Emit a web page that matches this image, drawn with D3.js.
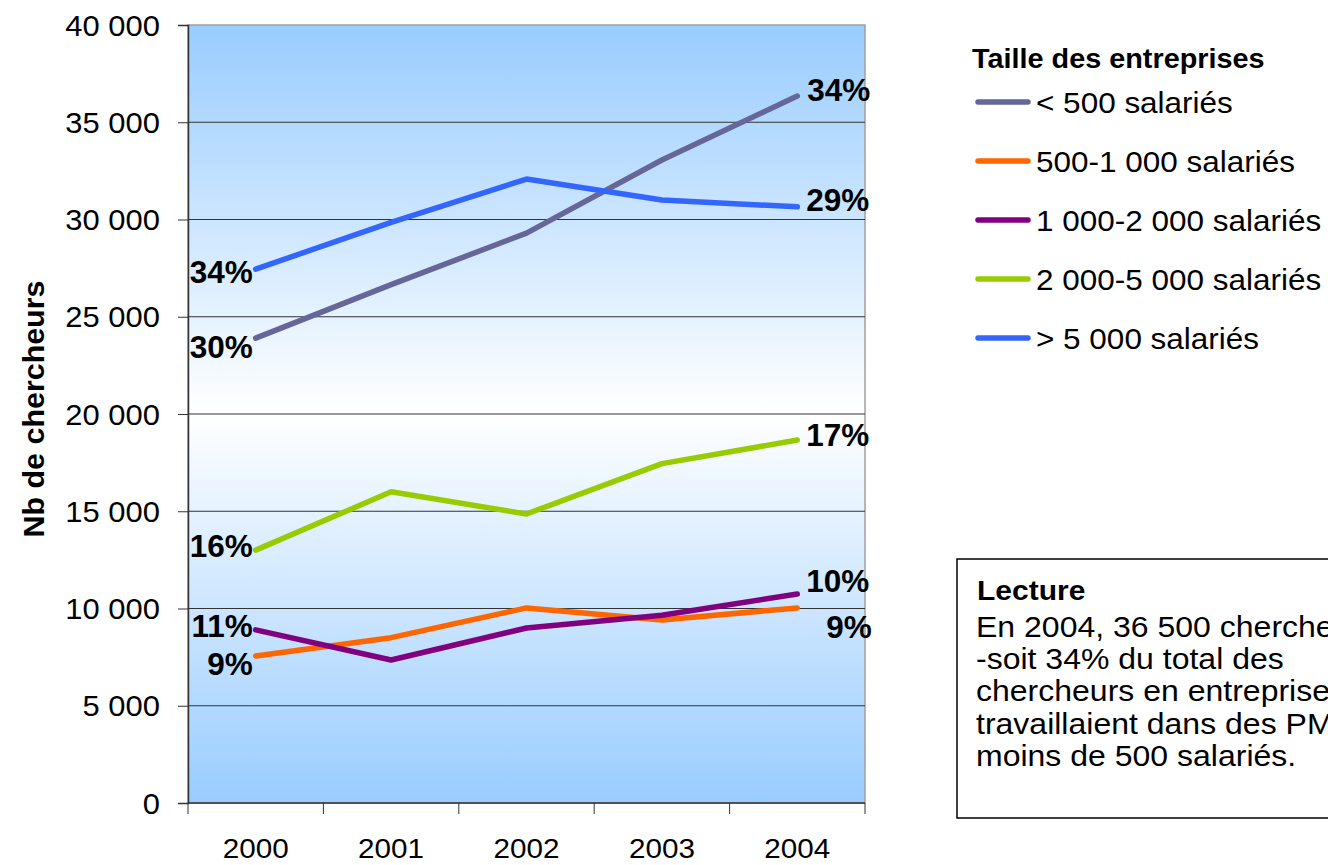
<!DOCTYPE html>
<html>
<head>
<meta charset="utf-8">
<script src="https://cdn.jsdelivr.net/npm/d3@7"></script>
<style>
  body { margin: 0; background: #fff; }
  svg { display: block; font-family: "Liberation Sans", Arial, sans-serif; }
</style>
</head>
<body>
<div id="chart_wrapper"></div>
<script>
// data
var years = ["2000", "2001", "2002", "2003", "2004"];
var seriesNames = ["< 500 salariés", "500-1 000 salariés", "1 000-2 000 salariés", "2 000-5 000 salariés", "> 5 000 salariés"];
var seriesColors = ["#666699", "#FF6600", "#800080", "#99CC00", "#3366FF"];
var valsPME   = [23900, 26650, 29300, 33060, 36350];
var vals500   = [7560, 8500, 10030, 9410, 10030];
var vals1000  = [8900, 7350, 9000, 9650, 10750];
var vals2000  = [13000, 16000, 14860, 17450, 18660];
var vals5000  = [27450, 29850, 32080, 31000, 30650];
var startPct = ["30%", "9%", "11%", "16%", "34%"];
var endPct   = ["34%", "9%", "10%", "17%", "29%"];
var yTicks = [0, 5000, 10000, 15000, 20000, 25000, 30000, 35000, 40000];
var lectureLines = ["En 2004, 36 500 chercheurs", "-soit 34% du total des", "chercheurs en entreprises-", "travaillaient dans des PME de", "moins de 500 salariés."];

var allSeries = [valsPME, vals500, vals1000, vals2000, vals5000];

// label nudges (layout only): [dx, dy] from the point
var startNudge = [[-3, 20], [-3, 19], [-3, 7], [-3, 7], [-3, 14]];
var endNudge = [[10, 5], [29, 30], [9, -2], [9, 6], [9, 4]];

var W = 1328, H = 865;
var plot = { left: 188, right: 865, top: 25, bottom: 803 };
var SX = 1.06; // source glyphs a bit wider than Arial

var svg = d3.select("#chart_wrapper").append("svg").attr("width", W).attr("height", H);

var defs = svg.append("defs");
var grad = defs.append("linearGradient").attr("id", "bg").attr("x1", 0).attr("y1", 0).attr("x2", 0).attr("y2", 1);
grad.append("stop").attr("offset", "0%").attr("stop-color", "#99CCFF");
grad.append("stop").attr("offset", "50%").attr("stop-color", "#FFFFFF");
grad.append("stop").attr("offset", "100%").attr("stop-color", "#99CCFF");

var x = d3.scaleBand().domain(years).range([plot.left, plot.right]);
var y = d3.scaleLinear().domain([0, 40000]).range([plot.bottom, plot.top]);

function fmt(v) { return d3.format(",")(v).replace(/,/g, " "); }

function txt(g, px, py, s, size, weight, anchor, sx, rot) {
  return g.append("text")
    .attr("transform", "translate(" + px + "," + py + ")" + (rot ? " rotate(" + rot + ")" : "") + " scale(" + sx + ",1)")
    .attr("text-anchor", anchor || "start")
    .attr("font-size", size)
    .attr("font-weight", weight || "normal")
    .attr("fill", "#000")
    .text(s);
}

// plot background
svg.append("rect")
  .attr("x", plot.left).attr("y", plot.top)
  .attr("width", plot.right - plot.left).attr("height", plot.bottom - plot.top)
  .attr("fill", "url(#bg)")
  .attr("stroke", "#A0A0A0").attr("stroke-width", 1.5);

// gridlines
svg.append("g").selectAll("line")
  .data(yTicks.filter(function(d) { return d > 0 && d < 40000; }))
  .enter().append("line")
  .attr("x1", plot.left).attr("x2", plot.right)
  .attr("y1", function(d) { return y(d); }).attr("y2", function(d) { return y(d); })
  .attr("stroke", "#333").attr("stroke-width", 1);

// y axis
var yAxis = svg.append("g").attr("transform", "translate(" + plot.left + ",0)")
  .call(d3.axisLeft(y).tickValues(yTicks).tickSize(10).tickFormat(""));
yAxis.select(".domain").attr("stroke", "#333").attr("stroke-width", 1.5);
yAxis.selectAll(".tick line").attr("stroke", "#333");
yTicks.forEach(function(t) {
  txt(svg, 160, y(t) + 10.5, fmt(t), 29.2, "normal", "end", SX);
});

// x axis: ticks at category boundaries
var xAxis = svg.append("g").attr("transform", "translate(0," + plot.bottom + ")");
xAxis.append("line").attr("x1", plot.left).attr("x2", plot.right).attr("stroke", "#333").attr("stroke-width", 1.5);
var bounds = years.map(function(d) { return x(d); }).concat([x(years[years.length - 1]) + x.bandwidth()]);
xAxis.selectAll("line.tk").data(bounds).enter().append("line").attr("class", "tk")
  .attr("x1", function(d) { return d; }).attr("x2", function(d) { return d; })
  .attr("y1", 0).attr("y2", 11).attr("stroke", "#333");
years.forEach(function(yr) {
  txt(svg, x(yr) + x.bandwidth() / 2, 858, yr, 28, "normal", "middle", SX);
});

// y title
txt(svg, 44, 409, "Nb de chercheurs", 28.7, "bold", "middle", SX, -90);

// lines
var line = d3.line()
  .x(function(d, i) { return x(years[i]) + x.bandwidth() / 2; })
  .y(function(d) { return y(d); });

var lines = svg.append("g");
allSeries.forEach(function(vals, i) {
  lines.append("path").datum(vals)
    .attr("d", line)
    .attr("fill", "none")
    .attr("stroke", seriesColors[i])
    .attr("stroke-width", 5.5)
    .attr("stroke-linecap", "round")
    .attr("stroke-linejoin", "round");
});

// data labels
allSeries.forEach(function(vals, i) {
  var x0 = x(years[0]) + x.bandwidth() / 2;
  var x1 = x(years[4]) + x.bandwidth() / 2;
  txt(svg, x0 + startNudge[i][0], y(vals[0]) + startNudge[i][1], startPct[i], 31.5, "bold", "end", 1);
  txt(svg, x1 + endNudge[i][0], y(vals[4]) + endNudge[i][1], endPct[i], 31.5, "bold", "start", 1);
});

// legend
var leg = svg.append("g");
txt(leg, 972, 68, "Taille des entreprises", 27.2, "bold", "start", SX);
seriesNames.forEach(function(name, i) {
  var ly = 102 + i * 59;
  leg.append("line").attr("x1", 978).attr("x2", 1028).attr("y1", ly).attr("y2", ly)
    .attr("stroke", seriesColors[i]).attr("stroke-width", 5.5).attr("stroke-linecap", "round");
  txt(leg, 1036, ly + 10.5, name, 29.7, "normal", "start", SX);
});

// Lecture box (runs past the right edge, as in the source)
var box = svg.append("g");
box.append("rect").attr("x", 957).attr("y", 559).attr("width", 500).attr("height", 259)
  .attr("fill", "#fff").attr("stroke", "#000").attr("stroke-width", 1.5);
txt(box, 977, 600, "Lecture", 28.3, "bold", "start", SX);
lectureLines.forEach(function(l, i) {
  txt(box, 976, 637 + i * 32.2, l, 30.2, "normal", "start", SX);
});
</script>
</body>
</html>
